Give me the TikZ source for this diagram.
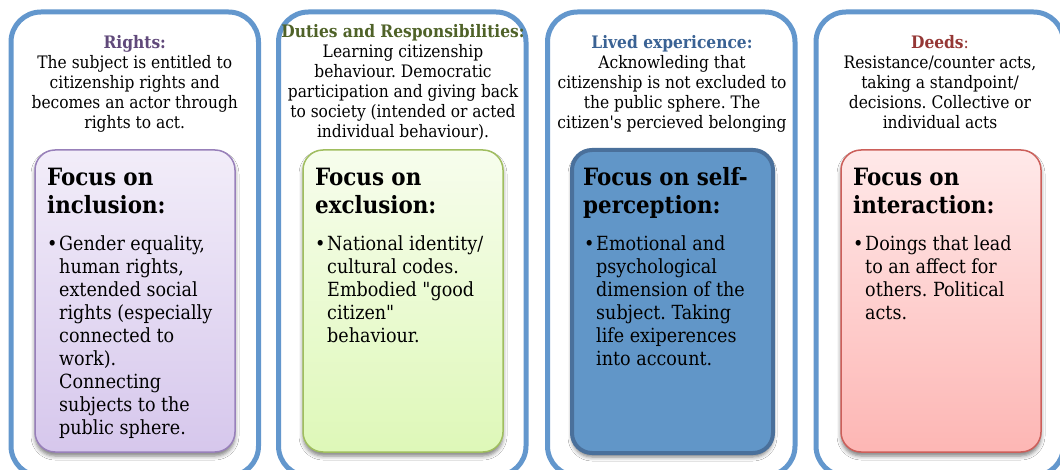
\documentclass[tikz,border=0pt]{standalone}
\usepackage{fontspec}
\setmainfont{DejaVu Serif Condensed}[Ligatures=TeXOff]
\usetikzlibrary{shadows.blur}
\frenchspacing

\definecolor{frameblue}{RGB}{99,151,205}
\definecolor{rightsc}{RGB}{96,73,122}
\definecolor{dutiesc}{RGB}{79,98,40}
\definecolor{livedc}{RGB}{58,98,148}
\definecolor{deedsc}{RGB}{149,55,53}
\definecolor{purpleedge}{RGB}{152,128,186}
\definecolor{purpletop}{RGB}{242,237,249}
\definecolor{purplebot}{RGB}{214,199,236}
\definecolor{greenedge}{RGB}{160,190,95}
\definecolor{greentop}{RGB}{247,253,237}
\definecolor{greenbot}{RGB}{222,248,184}
\definecolor{blueedge}{RGB}{74,112,155}
\definecolor{bluefill}{RGB}{97,150,200}
\definecolor{rededge}{RGB}{204,95,90}
\definecolor{redtop}{RGB}{255,233,233}
\definecolor{redbot}{RGB}{253,182,180}

\begin{document}
\begin{tikzpicture}[x=1pt,y=-1pt,
  frame/.style={draw=frameblue, line width=5pt, rounded corners=30pt, fill=white,
    minimum width=247.5pt, minimum height=464pt, inner sep=0pt},
  panel/.style={rounded corners=20pt, line width=1.5pt, inner sep=0pt,
    minimum width=200pt, minimum height=302pt,
    blur shadow={shadow xshift=0pt, shadow yshift=-4pt, shadow blur radius=4pt, shadow opacity=50}},
  toptext/.style={anchor=north, align=center, inner sep=0pt, font=\fontsize{17.2}{20}\selectfont},
  headtext/.style={anchor=north west, align=left, inner sep=0pt, font=\fontsize{23.8}{28.5}\selectfont\bfseries},
  itemtext/.style={anchor=north west, align=left, inner sep=0pt, font=\fontsize{19.5}{23}\selectfont},
]
\useasboundingbox (0,0) rectangle (1060,470);
\clip (0,0) rectangle (1060,470);

% outer frames
\node[frame] (f1) at (134.75,244) {};
\node[frame] (f2) at (402.25,244) {};
\node[frame] (f3) at (671.25,244) {};
\node[frame] (f4) at (939.75,244) {};

% coloured focus panels
\node[panel, draw=purpleedge, top color=purpletop, bottom color=purplebot] (p1) at (135,301) {};
\node[panel, draw=greenedge, top color=greentop, bottom color=greenbot] (p2) at (403,301) {};
\node[panel, draw=blueedge, fill=bluefill, line width=4pt, minimum width=201pt, minimum height=303pt] (p3) at (672.5,301.5) {};
\node[panel, draw=rededge, top color=redtop, bottom color=redbot] (p4) at (941,301) {};

% descriptions at the top of each frame
\node[toptext] (t1) at (134.75,34) {\strut\textcolor{rightsc}{\bfseries Rights:}\\
  The subject is entitled to\\ citizenship rights and\\ becomes an actor through\\ rights to act.};
\node[toptext] (t2) at (403,23) {\strut\textcolor{dutiesc}{\bfseries Duties and Responsibilities:}\\
  Learning citizenship\\ behaviour. Democratic\\ participation and giving back\\ to society (intended or acted\\ individual behaviour).};
\node[toptext] (t3) at (672,34) {\strut\textcolor{livedc}{\bfseries Lived expericence:}\\
  Acknowleding that\\ citizenship is not excluded to\\ the public sphere. The\\ citizen's percieved belonging};
\node[toptext] (t4) at (940,34) {\strut\textcolor{deedsc}{\bfseries Deeds}\textcolor{deedsc}{:}\\
  Resistance/counter acts,\\ taking a standpoint/\\ decisions. Collective or\\ individual acts};

% panel headings
\node[headtext] (h1) at (47,165) {\strut Focus on\\ inclusion:};
\node[headtext] (h2) at (315,165) {\strut Focus on\\ exclusion:};
\node[headtext] (h3) at (583,165) {\strut Focus on self-\\ perception:};
\node[headtext] (h4) at (853,165) {\strut Focus on\\ interaction:};

% bullets
\node[itemtext] (d1) at (47,234) {\strut\textbullet};
\node[itemtext] (d2) at (315,234) {\strut\textbullet};
\node[itemtext] (d3) at (584,234) {\strut\textbullet};
\node[itemtext] (d4) at (853,234) {\strut\textbullet};

% bullet texts
\node[itemtext] (b1) at (59,234) {\strut Gender equality,\\ human rights,\\ extended social\\ rights (especially\\ connected to\\ work).\\ Connecting\\ subjects to the\\ public sphere.};
\node[itemtext] (b2) at (327,234) {\strut National identity/\\ cultural codes.\\ Embodied "good\\ citizen"\\ behaviour.};
\node[itemtext] (b3) at (596,234) {\strut Emotional and\\ psychological\\ dimension of the\\ subject. Taking\\ life exiperences\\ into account.};
\node[itemtext] (b4) at (865,234) {\strut Doings that lead\\ to an affect for\\ others. Political\\ acts.};
\end{tikzpicture}
\end{document}
